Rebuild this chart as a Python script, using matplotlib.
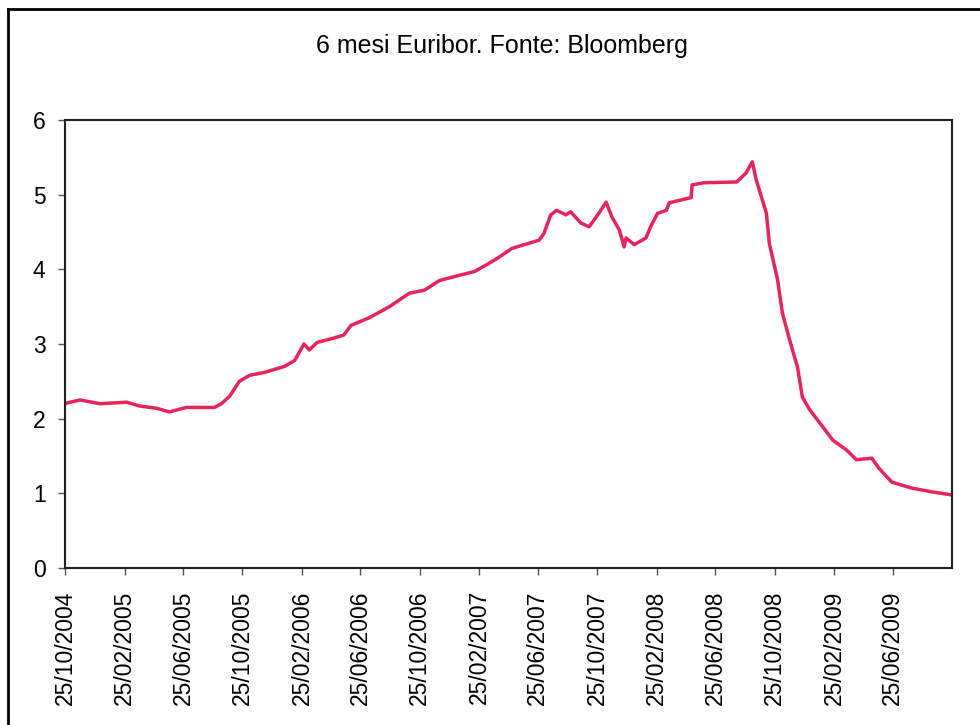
import numpy as np
import pandas as pd
from matplotlib import pyplot as plt
from matplotlib.lines import Line2D

# 6-month Euribor, values
dates = ["2004-10-25", "2004-10-29", "2004-11-25", "2005-01-05", "2005-03-01", "2005-03-27",
         "2005-05-01", "2005-05-28", "2005-07-02", "2005-08-29", "2005-09-12", "2005-09-29",
         "2005-10-19", "2005-11-09", "2005-12-10", "2006-01-20", "2006-02-10", "2006-03-01",
         "2006-03-12", "2006-03-28", "2006-05-02", "2006-05-22", "2006-06-06", "2006-07-13",
         "2006-08-24", "2006-10-04", "2006-11-04", "2006-12-05", "2007-01-15", "2007-02-15",
         "2007-03-17", "2007-04-06", "2007-05-03", "2007-06-28", "2007-07-08", "2007-07-22",
         "2007-08-03", "2007-08-22", "2007-09-01", "2007-09-22", "2007-10-09", "2007-10-29",
         "2007-11-13", "2007-11-25", "2007-12-10", "2007-12-20", "2007-12-24", "2008-01-10",
         "2008-02-03", "2008-02-14", "2008-02-27", "2008-03-16", "2008-03-22", "2008-04-16",
         "2008-05-06", "2008-05-08", "2008-06-02", "2008-08-08", "2008-08-27", "2008-09-09",
         "2008-09-17", "2008-10-08", "2008-10-14", "2008-10-31", "2008-11-10", "2008-11-25",
         "2008-12-11", "2008-12-21", "2009-01-05", "2009-02-01", "2009-02-22", "2009-03-22",
         "2009-04-11", "2009-05-13", "2009-05-27", "2009-06-23", "2009-08-03", "2009-09-13",
         "2009-10-23"]
rates = [2.20, 2.21, 2.25, 2.20, 2.22, 2.17,
         2.14, 2.09, 2.15, 2.15, 2.20, 2.30,
         2.50, 2.58, 2.62, 2.70, 2.78, 3.00,
         2.92, 3.02, 3.08, 3.12, 3.25, 3.35,
         3.50, 3.68, 3.72, 3.85, 3.92, 3.97,
         4.08, 4.16, 4.28, 4.39, 4.48, 4.73,
         4.79, 4.73, 4.77, 4.62, 4.57, 4.75,
         4.90, 4.70, 4.53, 4.30, 4.42, 4.33,
         4.42, 4.59, 4.75, 4.79, 4.89, 4.93,
         4.96, 5.13, 5.16, 5.17, 5.29, 5.44,
         5.20, 4.75, 4.35, 3.86, 3.41, 3.05,
         2.69, 2.29, 2.12, 1.89, 1.71, 1.58,
         1.45, 1.47, 1.34, 1.15, 1.07, 1.02,
         0.98]

tick_dates = ["2004-10-25", "2005-02-25", "2005-06-25", "2005-10-25", "2006-02-25",
              "2006-06-25", "2006-10-25", "2007-02-25", "2007-06-25", "2007-10-25",
              "2008-02-25", "2008-06-25", "2008-10-25", "2009-02-25", "2009-06-25"]

x = pd.to_datetime(dates)
ticks = pd.to_datetime(tick_dates)

plt.rcParams['font.family'] = ['Liberation Sans', 'DejaVu Sans']

fig = plt.figure(figsize=(9.8, 7.25), dpi=100)
ax = fig.add_axes([0.0663, 0.2166, 0.9051, 0.6179])

ax.plot(x, rates, color="#e8245a", linewidth=2.5)

ax.set_xlim(pd.Timestamp("2004-10-25"), pd.Timestamp("2009-10-25"))
ax.set_ylim(0, 6)
ax.set_yticks(range(7))
ax.set_xticks(ticks)
ax.set_xticklabels([t.strftime("%d/%m/%Y") for t in ticks], rotation=90, fontsize=16.5)
ax.tick_params(axis="y", labelsize=16.5, length=5, width=1, color="#555555", pad=9)
ax.tick_params(axis="x", length=5, width=1, color="#555555", pad=11)
for s in ax.spines.values():
    s.set_linewidth(1.5)
    s.set_color("#222222")

fig.text(0.512, 0.936, "6 mesi Euribor. Fonte: Bloomberg", ha="center", va="center", fontsize=18)

# frame around the chart (left and top edges visible in the scan)
fig.add_artist(Line2D([0.008, 0.008], [0.0, 0.988], color="black", linewidth=2))
fig.add_artist(Line2D([0.008, 1.0], [0.988, 0.988], color="black", linewidth=2))

fig.savefig("out.png", dpi=100)
